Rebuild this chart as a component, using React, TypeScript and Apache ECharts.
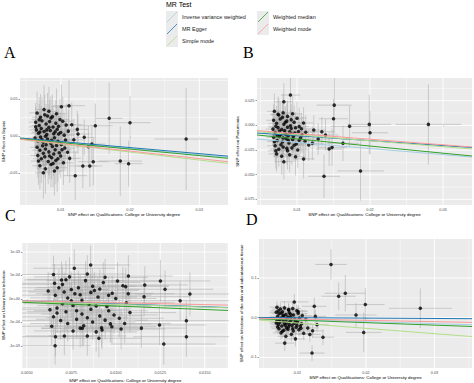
import React, { useEffect, useRef } from "react";
import * as echarts from "echarts";

// ---------- data ----------
const methods = ["Inverse variance weighted", "MR Egger", "Simple mode", "Weighted median", "Weighted mode"];
const methodColors = ["#a6cee3", "#1f78b4", "#b2df8a", "#33a02c", "#fb9a99"];
const panelLetters = ["A", "B", "C", "D"];
const outcomeTitles = [
  "SNP effect on Sepsis",
  "SNP effect on Pneumonia",
  "SNP effect on Urinary tract infection",
  "SNP effect on Infections of the skin and subcutaneous tissue",
];
const exposureTitle = "SNP effect on Qualifications: College or University degree";

// [beta exposure, beta outcome, se exposure, se outcome]
const snpsA = [
  [0.0281, -0.0041, 0.0046, 0.069], [0.0170, 0.0239, 0.0019, 0.048], [0.0200, 0.0180, 0.0030, 0.036],
  [0.0186, -0.0338, 0.0031, 0.047], [0.0198, -0.0374, 0.0020, 0.031], [0.0150, 0.0139, 0.0025, 0.030],
  [0.0112, 0.0410, 0.0023, 0.035], [0.0101, 0.0396, 0.0015, 0.030], [0.0132, -0.0405, 0.0020, 0.030],
  [0.0142, -0.0405, 0.0018, 0.028], [0.0147, -0.0347, 0.0022, 0.032], [0.0121, -0.0536, 0.0017, 0.033],
  [0.0124, 0.0090, 0.0016, 0.025], [0.0125, 0.0027, 0.0018, 0.027], [0.0134, -0.0018, 0.0015, 0.024],
  [0.0145, -0.0108, 0.0019, 0.026], [0.0140, -0.0144, 0.0017, 0.028],
  [0.0066, 0.0312, 0.0011, 0.029], [0.0071, 0.0255, 0.0012, 0.031], [0.0077, 0.0286, 0.0010, 0.027],
  [0.0083, 0.0334, 0.0013, 0.033], [0.0088, 0.0262, 0.0012, 0.030], [0.0094, 0.0301, 0.0014, 0.034],
  [0.0099, 0.0224, 0.0013, 0.028], [0.0064, 0.0187, 0.0010, 0.026], [0.0069, 0.0142, 0.0011, 0.029],
  [0.0073, 0.0205, 0.0012, 0.032], [0.0079, 0.0163, 0.0011, 0.027], [0.0084, 0.0196, 0.0013, 0.030],
  [0.0089, 0.0121, 0.0012, 0.028], [0.0093, 0.0174, 0.0014, 0.031], [0.0097, 0.0133, 0.0013, 0.026],
  [0.0103, 0.0201, 0.0015, 0.033], [0.0108, 0.0148, 0.0014, 0.029], [0.0065, 0.0083, 0.0010, 0.025],
  [0.0068, 0.0038, 0.0011, 0.028], [0.0072, 0.0102, 0.0012, 0.030], [0.0076, 0.0061, 0.0011, 0.027],
  [0.0080, 0.0019, 0.0012, 0.031], [0.0085, 0.0074, 0.0013, 0.026], [0.0090, 0.0032, 0.0012, 0.029],
  [0.0095, 0.0091, 0.0014, 0.032], [0.0100, 0.0048, 0.0013, 0.027], [0.0105, 0.0012, 0.0015, 0.030],
  [0.0111, 0.0066, 0.0014, 0.028], [0.0063, -0.0028, 0.0010, 0.026], [0.0067, -0.0064, 0.0011, 0.030],
  [0.0071, -0.0012, 0.0012, 0.028], [0.0075, -0.0083, 0.0011, 0.031], [0.0081, -0.0041, 0.0012, 0.027],
  [0.0086, -0.0102, 0.0013, 0.029], [0.0091, -0.0023, 0.0012, 0.033], [0.0096, -0.0071, 0.0014, 0.028],
  [0.0101, -0.0115, 0.0013, 0.030], [0.0107, -0.0054, 0.0015, 0.026], [0.0066, -0.0152, 0.0010, 0.029],
  [0.0070, -0.0193, 0.0011, 0.031], [0.0074, -0.0131, 0.0012, 0.027], [0.0078, -0.0176, 0.0011, 0.030],
  [0.0083, -0.0214, 0.0013, 0.032], [0.0088, -0.0143, 0.0012, 0.028], [0.0092, -0.0185, 0.0013, 0.030],
  [0.0098, -0.0226, 0.0014, 0.029], [0.0106, -0.0163, 0.0015, 0.031], [0.0067, -0.0262, 0.0011, 0.030],
  [0.0072, -0.0308, 0.0012, 0.033], [0.0077, -0.0281, 0.0011, 0.028], [0.0082, -0.0343, 0.0012, 0.031],
  [0.0087, -0.0294, 0.0013, 0.029], [0.0093, -0.0332, 0.0014, 0.032], [0.0100, -0.0271, 0.0013, 0.030],
  [0.0113, -0.0302, 0.0016, 0.033], [0.0070, -0.0402, 0.0011, 0.032], [0.0078, -0.0441, 0.0012, 0.034],
  [0.0086, -0.0384, 0.0013, 0.031], [0.0095, -0.0428, 0.0014, 0.033], [0.0104, -0.0362, 0.0015, 0.030],
  [0.0075, -0.0497, 0.0012, 0.035], [0.0091, -0.0472, 0.0013, 0.033],
  [0.0069, 0.0221, 0.0011, 0.030], [0.0086, 0.0243, 0.0012, 0.029], [0.0092, 0.0059, 0.0013, 0.028],
  [0.0078, -0.0003, 0.0011, 0.029], [0.0070, 0.0054, 0.0011, 0.027], [0.0083, 0.0117, 0.0012, 0.031],
  [0.0087, -0.0058, 0.0013, 0.030], [0.0073, -0.0046, 0.0012, 0.028], [0.0079, -0.0117, 0.0011, 0.029],
  [0.0094, -0.0128, 0.0013, 0.031], [0.0090, -0.0242, 0.0013, 0.030], [0.0075, -0.0234, 0.0011, 0.028],
  [0.0084, -0.0269, 0.0012, 0.031], [0.0068, -0.0338, 0.0011, 0.032], [0.0097, 0.0027, 0.0013, 0.030],
  [0.0102, -0.0186, 0.0014, 0.029], [0.0081, 0.0271, 0.0012, 0.031], [0.0064, 0.0124, 0.0010, 0.027],
  [0.0110, -0.0218, 0.0015, 0.032], [0.0096, -0.0307, 0.0014, 0.031], [0.0119, -0.0051, 0.0016, 0.028],
  [0.0116, 0.0152, 0.0016, 0.030], [0.0076, 0.0358, 0.0012, 0.033], [0.0089, -0.0371, 0.0013, 0.032],
  [0.0080, 0.0083, 0.0011, 0.028],
];

const snpsB = [
  [0.0280, 0.0010, 0.0045, 0.0405], [0.0199, 0.0010, 0.0030, 0.0300], [0.0200, -0.0075, 0.0025, 0.0220],
  [0.0187, -0.0462, 0.0032, 0.0300], [0.0137, -0.0516, 0.0022, 0.0220], [0.0151, 0.0205, 0.0024, 0.0290],
  [0.0150, 0.0067, 0.0020, 0.0200], [0.0172, -0.0010, 0.0026, 0.0210], [0.0163, -0.0182, 0.0022, 0.0180],
  [0.0148, -0.0223, 0.0020, 0.0190], [0.0144, -0.0240, 0.0018, 0.0170], [0.0091, 0.0307, 0.0013, 0.0200],
  [0.0082, 0.0239, 0.0012, 0.0190], [0.0082, -0.0368, 0.0012, 0.0180], [0.0109, -0.0340, 0.0015, 0.0200],
  [0.0139, -0.0098, 0.0018, 0.0160], [0.0134, -0.0065, 0.0017, 0.0150], [0.0123, -0.0048, 0.0016, 0.0150],
  [0.0129, -0.0139, 0.0017, 0.0160], [0.0121, -0.0182, 0.0016, 0.0170], [0.0116, -0.0199, 0.0015, 0.0160],
  [0.0069, 0.0142, 0.0010, 0.018], [0.0075, 0.0105, 0.0011, 0.017], [0.0081, 0.0128, 0.0012, 0.019],
  [0.0087, 0.0091, 0.0011, 0.016], [0.0094, 0.0117, 0.0013, 0.018], [0.0100, 0.0073, 0.0012, 0.017],
  [0.0068, 0.0052, 0.0010, 0.016], [0.0072, 0.0021, 0.0011, 0.018], [0.0077, 0.0064, 0.0012, 0.017],
  [0.0082, 0.0012, 0.0011, 0.015], [0.0086, 0.0043, 0.0012, 0.018], [0.0091, -0.0005, 0.0013, 0.016],
  [0.0096, 0.0031, 0.0012, 0.017], [0.0103, -0.0012, 0.0014, 0.019], [0.0109, 0.0024, 0.0013, 0.016],
  [0.0067, -0.0038, 0.0010, 0.017], [0.0070, -0.0071, 0.0011, 0.016], [0.0074, -0.0023, 0.0012, 0.018],
  [0.0078, -0.0089, 0.0011, 0.015], [0.0083, -0.0052, 0.0012, 0.017], [0.0088, -0.0104, 0.0013, 0.016],
  [0.0092, -0.0031, 0.0012, 0.018], [0.0097, -0.0078, 0.0013, 0.017], [0.0102, -0.0062, 0.0014, 0.016],
  [0.0107, -0.0095, 0.0014, 0.018], [0.0068, -0.0121, 0.0010, 0.016], [0.0073, -0.0153, 0.0011, 0.018],
  [0.0076, -0.0112, 0.0012, 0.017], [0.0080, -0.0168, 0.0011, 0.015], [0.0085, -0.0134, 0.0012, 0.017],
  [0.0089, -0.0179, 0.0013, 0.018], [0.0094, -0.0142, 0.0012, 0.016], [0.0099, -0.0188, 0.0013, 0.017],
  [0.0105, -0.0126, 0.0014, 0.016], [0.0111, -0.0161, 0.0015, 0.018], [0.0070, -0.0207, 0.0011, 0.017],
  [0.0075, -0.0241, 0.0012, 0.018], [0.0081, -0.0219, 0.0011, 0.016], [0.0087, -0.0256, 0.0012, 0.019],
  [0.0093, -0.0228, 0.0013, 0.017], [0.0101, -0.0249, 0.0014, 0.018], [0.0072, -0.0289, 0.0011, 0.018],
  [0.0079, -0.0312, 0.0012, 0.019], [0.0090, -0.0297, 0.0013, 0.018], [0.0098, -0.0318, 0.0014, 0.019],
  [0.0084, 0.0032, 0.0012, 0.016], [0.0079, -0.0041, 0.0011, 0.017], [0.0090, -0.0066, 0.0013, 0.016],
  [0.0085, -0.0093, 0.0012, 0.018], [0.0095, -0.0113, 0.0013, 0.017],
  [0.0071, -0.0009, 0.0011, 0.016], [0.0076, -0.0058, 0.0011, 0.017], [0.0081, -0.0127, 0.0012, 0.016],
  [0.0087, -0.0019, 0.0012, 0.018], [0.0093, -0.0087, 0.0013, 0.017], [0.0098, -0.0024, 0.0013, 0.016],
  [0.0073, -0.0102, 0.0011, 0.017], [0.0069, -0.0165, 0.0010, 0.016], [0.0078, -0.0196, 0.0012, 0.018],
  [0.0088, -0.0151, 0.0012, 0.017], [0.0092, 0.0058, 0.0013, 0.016], [0.0080, 0.0081, 0.0011, 0.017],
  [0.0074, 0.0112, 0.0011, 0.018], [0.0103, -0.0151, 0.0014, 0.017], [0.0106, -0.0035, 0.0014, 0.016],
  [0.0083, -0.0077, 0.0012, 0.018], [0.0096, -0.0201, 0.0013, 0.017], [0.0071, -0.0258, 0.0011, 0.018],
  [0.0112, -0.0069, 0.0015, 0.017], [0.0086, -0.0233, 0.0012, 0.016],
];

const snpsC = [
  [0.01163, 0.000298, 0.0024, 0.00040], [0.01159, 0.000049, 0.0026, 0.00042], [0.01144, -0.000620, 0.0025, 0.00041],
  [0.01251, 0.000383, 0.0028, 0.00045], [0.01277, 0.000206, 0.0027, 0.00040], [0.01246, -0.000553, 0.0026, 0.00043],
  [0.01270, -0.000958, 0.0029, 0.00044], [0.01362, -0.000036, 0.0030, 0.00042], [0.01417, 0.000106, 0.0031, 0.00046],
  [0.01397, -0.000462, 0.0029, 0.00041], [0.01397, -0.000802, 0.0030, 0.00043], [0.01071, 0.000489, 0.0025, 0.00044],
  [0.01056, 0.000262, 0.0024, 0.00040], [0.00859, 0.000723, 0.0022, 0.00041], [0.00767, 0.000653, 0.0023, 0.00040],
  [0.00695, 0.000404, 0.0021, 0.00039], [0.00656, 0.000334, 0.0020, 0.00041], [0.00661, -0.000802, 0.0021, 0.00042],
  [0.00659, -0.000994, 0.0020, 0.00040], [0.00711, -0.000787, 0.0022, 0.00041], [0.00812, -0.000624, 0.0023, 0.00039],
  [0.00840, -0.000787, 0.0022, 0.00042], [0.00905, -0.000836, 0.0024, 0.00040], [0.00923, -0.000660, 0.0023, 0.00041],
  [0.00978, -0.000589, 0.0025, 0.00039],
  [0.0065, 0.00052, 0.0021, 0.00040], [0.0070, 0.00031, 0.0023, 0.00038], [0.0074, 0.00047, 0.0020, 0.00042],
  [0.0079, 0.00024, 0.0024, 0.00036], [0.0083, 0.00039, 0.0022, 0.00041], [0.0088, 0.00018, 0.0025, 0.00039],
  [0.0093, 0.00035, 0.0021, 0.00043], [0.0098, 0.00012, 0.0023, 0.00037], [0.0104, 0.00028, 0.0026, 0.00040],
  [0.0066, 0.00008, 0.0022, 0.00039], [0.0071, 0.00015, 0.0020, 0.00041], [0.0075, -0.00004, 0.0023, 0.00038],
  [0.0080, 0.00009, 0.0021, 0.00042], [0.0085, -0.00011, 0.0024, 0.00036], [0.0090, 0.00004, 0.0022, 0.00040],
  [0.0095, -0.00016, 0.0025, 0.00039], [0.0100, 0.00001, 0.0023, 0.00041], [0.0106, -0.00008, 0.0027, 0.00038],
  [0.0067, -0.00019, 0.0021, 0.00040], [0.0072, -0.00027, 0.0022, 0.00042], [0.0076, -0.00014, 0.0020, 0.00037],
  [0.0081, -0.00032, 0.0023, 0.00041], [0.0086, -0.00022, 0.0021, 0.00039], [0.0091, -0.00036, 0.0024, 0.00043],
  [0.0096, -0.00025, 0.0022, 0.00038], [0.0102, -0.00041, 0.0025, 0.00040], [0.0108, -0.00029, 0.0026, 0.00042],
  [0.0065, -0.00038, 0.0020, 0.00039], [0.0069, -0.00046, 0.0022, 0.00041], [0.0073, -0.00052, 0.0021, 0.00038],
  [0.0078, -0.00043, 0.0023, 0.00040], [0.0082, -0.00057, 0.0022, 0.00042], [0.0087, -0.00049, 0.0024, 0.00037],
  [0.0092, -0.00061, 0.0021, 0.00041], [0.0097, -0.00053, 0.0023, 0.00039], [0.0103, -0.00064, 0.0025, 0.00043],
  [0.0068, 0.00024, 0.0021, 0.00040], [0.0077, 0.00011, 0.0022, 0.00041], [0.0087, 0.00027, 0.0024, 0.00038],
  [0.0076, -0.00068, 0.0022, 0.00040], [0.0089, -0.00070, 0.0023, 0.00042], [0.0064, -0.00058, 0.0020, 0.00041],
  [0.0094, 0.00046, 0.0024, 0.00039], [0.0084, 0.00053, 0.0022, 0.00040],
  [0.0072, 0.00041, 0.0022, 0.00040], [0.0081, -0.00003, 0.0023, 0.00039], [0.0089, -0.00015, 0.0021, 0.00041],
  [0.0078, -0.00025, 0.0024, 0.00040], [0.0070, -0.00010, 0.0022, 0.00042], [0.0084, -0.00040, 0.0023, 0.00038],
  [0.0094, -0.00045, 0.0024, 0.00041], [0.0099, -0.00034, 0.0025, 0.00040], [0.0075, 0.00020, 0.0021, 0.00039],
  [0.0091, 0.00021, 0.0023, 0.00042], [0.0101, 0.00038, 0.0026, 0.00040], [0.0067, -0.00030, 0.0021, 0.00041],
  [0.0105, -0.00052, 0.0026, 0.00042], [0.0096, 0.00008, 0.0024, 0.00039], [0.0080, -0.00062, 0.0022, 0.00041],
  [0.0073, 0.00002, 0.0021, 0.00040], [0.0086, 0.00014, 0.0023, 0.00039], [0.0062, 0.00017, 0.0020, 0.00041],
  [0.0063, -0.00023, 0.0020, 0.00040], [0.0107, 0.00011, 0.0026, 0.00041],
];

const snpsD = [
  [0.01489, 0.134, 0.0023, 0.038], [0.01601, 0.054, 0.0025, 0.035], [0.01698, 0.0615, 0.0030, 0.046],
  [0.01990, 0.033, 0.0028, 0.042], [0.01854, 0.0068, 0.0030, 0.030], [0.01966, -0.037, 0.0026, 0.050],
  [0.02793, 0.0236, 0.0046, 0.050], [0.01212, -0.089, 0.0018, 0.020], [0.01372, -0.049, 0.0016, 0.020],
  [0.01245, 0.0287, 0.0018, 0.022], [0.00953, 0.0397, 0.0021, 0.020], [0.00813, -0.064, 0.0014, 0.020],
  [0.01285, -0.0177, 0.0017, 0.018], [0.01260, 0.0033, 0.0016, 0.017],
  [0.0070, 0.0265, 0.0011, 0.016], [0.0075, 0.0218, 0.0012, 0.015], [0.0081, 0.0247, 0.0011, 0.017],
  [0.0087, 0.0192, 0.0013, 0.016], [0.0093, 0.0231, 0.0012, 0.018], [0.0099, 0.0176, 0.0014, 0.015],
  [0.0069, 0.0135, 0.0010, 0.015], [0.0073, 0.0098, 0.0011, 0.016], [0.0078, 0.0152, 0.0012, 0.014],
  [0.0083, 0.0081, 0.0011, 0.017], [0.0088, 0.0124, 0.0012, 0.015], [0.0094, 0.0067, 0.0013, 0.016],
  [0.0101, 0.0109, 0.0014, 0.017], [0.0107, 0.0053, 0.0014, 0.015], [0.0071, 0.0032, 0.0011, 0.016],
  [0.0076, -0.0011, 0.0012, 0.015], [0.0080, 0.0041, 0.0011, 0.017], [0.0085, -0.0024, 0.0012, 0.016],
  [0.0090, 0.0015, 0.0013, 0.014], [0.0096, -0.0038, 0.0013, 0.016], [0.0103, -0.0007, 0.0014, 0.017],
  [0.0112, -0.0046, 0.0015, 0.016], [0.0070, -0.0079, 0.0011, 0.015], [0.0074, -0.0118, 0.0012, 0.016],
  [0.0079, -0.0086, 0.0011, 0.017], [0.0084, -0.0131, 0.0012, 0.015], [0.0089, -0.0097, 0.0013, 0.016],
  [0.0095, -0.0142, 0.0013, 0.017], [0.0100, -0.0105, 0.0014, 0.015], [0.0106, -0.0153, 0.0015, 0.016],
  [0.0072, -0.0176, 0.0011, 0.016], [0.0077, -0.0211, 0.0012, 0.017], [0.0082, -0.0189, 0.0011, 0.015],
  [0.0087, -0.0228, 0.0012, 0.016], [0.0092, -0.0197, 0.0013, 0.017], [0.0098, -0.0241, 0.0014, 0.016],
  [0.0104, -0.0215, 0.0014, 0.015], [0.0115, -0.0258, 0.0016, 0.017], [0.0073, -0.0279, 0.0011, 0.016],
  [0.0080, -0.0314, 0.0012, 0.017], [0.0086, -0.0292, 0.0012, 0.016], [0.0094, -0.0337, 0.0013, 0.018],
  [0.0102, -0.0305, 0.0014, 0.016], [0.0122, -0.0331, 0.0016, 0.017], [0.0076, -0.0382, 0.0012, 0.017],
  [0.0091, -0.0415, 0.0013, 0.018], [0.0109, -0.0394, 0.0015, 0.017], [0.0083, -0.0468, 0.0012, 0.018],
  [0.0097, -0.0533, 0.0014, 0.019], [0.0118, -0.0421, 0.0016, 0.018],
  [0.0072, 0.0175, 0.0011, 0.015], [0.0079, 0.0062, 0.0011, 0.016], [0.0086, 0.0015, 0.0012, 0.015],
  [0.0091, -0.0051, 0.0013, 0.016], [0.0074, -0.0043, 0.0011, 0.016], [0.0081, -0.0148, 0.0012, 0.015],
  [0.0088, -0.0172, 0.0012, 0.016], [0.0097, -0.0071, 0.0013, 0.017], [0.0071, -0.0233, 0.0011, 0.016],
  [0.0084, -0.0256, 0.0012, 0.017], [0.0093, -0.0279, 0.0013, 0.016], [0.0078, -0.0342, 0.0011, 0.017],
  [0.0101, 0.0158, 0.0014, 0.016], [0.0105, -0.0268, 0.0014, 0.017], [0.0076, 0.0119, 0.0011, 0.015],
  [0.0090, 0.0088, 0.0013, 0.016], [0.0083, -0.0045, 0.0012, 0.015], [0.0099, -0.0183, 0.0013, 0.016],
  [0.0069, -0.0136, 0.0010, 0.015], [0.0087, 0.0203, 0.0012, 0.016],
];

// [intercept, slope] per method (same order as methods)
const fitsA = [[0, -0.843], [0.0008, -0.82], [0, -1.081], [0, -0.882], [0, -1.016]];
const fitsB = [[-0.0111, -0.618], [-0.0055, -0.499], [-0.0036, -0.60], [-0.0065, -0.723], [-0.0027, -0.567]];
const fitsC = [[0, -0.011], [0.00002, -0.0125], [0, -0.0115], [0, -0.015], [0, -0.008]];
const fitsD = [[0, -0.50], [0.001, -0.10], [0, -1.34], [0, -0.625], [0, -0.335]];

// tick values and labels
const xTicksA = [0.01, 0.02, 0.03];
const xTickLabelsA = ["0.01", "0.02", "0.03"];
const yTicksA = [0.05, 0, -0.05];
const yTickLabelsA = ["0.05", "0.00", "-0.05"];
const xTicksB = [0.01, 0.02, 0.03];
const xTickLabelsB = ["0.01", "0.02", "0.03"];
const yTicksB = [0.025, 0, -0.025, -0.05, -0.075];
const yTickLabelsB = ["0.025", "0.000", "-0.025", "-0.050", "-0.075"];
const xTicksC = [0.005, 0.0075, 0.01, 0.0125, 0.015];
const xTickLabelsC = ["0.0050", "0.0075", "0.0100", "0.0125", "0.0150"];
const yTicksC = [0.001, 0.0005, 0, -0.0005, -0.001];
const yTickLabelsC = ["1e-03", "5e-04", "0e+00", "-5e-04", "-1e-03"];
const xTicksD = [0.01, 0.02, 0.03];
const xTickLabelsD = ["0.01", "0.02", "0.03"];
const yTicksD = [0.1, 0, -0.1];
const yTickLabelsD = ["0.1", "0.0", "-0.1"];

// minor grid positions
const xMinorA = [0.005, 0.015, 0.025];
const yMinorA = [0.075, 0.025, -0.025, -0.075];
const xMinorB = [0.005, 0.015, 0.025];
const yMinorB = [0.0375, 0.0125, -0.0125, -0.0375, -0.0625];
const xMinorC = [0.00625, 0.00875, 0.01125, 0.01375, 0.01625];
const yMinorC = [0.00075, 0.00025, -0.00025, -0.00075, -0.00125];
const xMinorD = [0.005, 0.015, 0.025, 0.035];
const yMinorD = [0.15, 0.05, -0.05];

// ---------- layout ----------
const panels = [
  { snps: snpsA, fits: fitsA, xt: xTicksA, xl: xTickLabelsA, yt: yTicksA, yl: yTickLabelsA, xm: xMinorA, ym: yMinorA,
    grid: { left: 18, top: 78, width: 210, height: 127 }, x: [0.00414, 0.03414], y: [-0.0932, 0.0784],
    yGap: 11, xGap: 6, letter: [4, 44] },
  { snps: snpsB, fits: fitsB, xt: xTicksB, xl: xTickLabelsB, yt: yTicksB, yl: yTickLabelsB, xm: xMinorB, ym: yMinorB,
    grid: { left: 257, top: 78, width: 215, height: 127 }, x: [0.00452, 0.03397], y: [-0.0807, 0.048],
    yGap: 14, xGap: 6, letter: [243, 44] },
  { snps: snpsC, fits: fitsC, xt: xTicksC, xl: xTickLabelsC, yt: yTicksC, yl: yTickLabelsC, xm: xMinorC, ym: yMinorC,
    grid: { left: 19, top: 243, width: 209, height: 125 }, x: [0.00475, 0.01631], y: [-0.001468, 0.00119],
    yGap: 13, xGap: 10, letter: [5, 207] },
  { snps: snpsD, fits: fitsD, xt: xTicksD, xl: xTickLabelsD, yt: yTicksD, yl: yTickLabelsD, xm: xMinorD, ym: yMinorD,
    grid: { left: 259, top: 239, width: 213, height: 129 }, x: [0.00438, 0.03547], y: [-0.1266, 0.198],
    yGap: 16, xGap: 7, letter: [246, 211] },
];

const FONT = "Liberation Sans, Arial, sans-serif";

function labelFormatter(ticks: number[], labels: string[]) {
  return (v: number) => {
    const i = ticks.findIndex((t) => Math.abs(t - v) < 1e-12 + Math.abs(t) * 1e-6);
    return i >= 0 ? labels[i] : "";
  };
}

function buildOption() {
  const grid: any[] = [];
  const xAxis: any[] = [];
  const yAxis: any[] = [];
  const series: any[] = [];
  const graphic: any[] = [];

  panels.forEach((p, i) => {
    grid.push({ ...p.grid, show: true, backgroundColor: "#EBEBEB", borderWidth: 0, containLabel: false });
    const axisCommon = {
      type: "value",
      gridIndex: i,
      axisLine: { show: false },
      splitLine: { show: false },
      nameLocation: "middle",
      nameTextStyle: { fontSize: 4.4, color: "#000", fontFamily: FONT },
    };
    xAxis.push({
      ...axisCommon,
      min: p.x[0],
      max: p.x[1],
      name: exposureTitle,
      nameGap: p.xGap,
      axisTick: { show: true, length: 1.5, lineStyle: { color: "#333", width: 0.5 }, customValues: p.xt },
      axisLabel: { customValues: p.xt, formatter: labelFormatter(p.xt, p.xl), fontSize: 3.8, color: "#4D4D4D", margin: 2.5, fontFamily: FONT },
    });
    yAxis.push({
      ...axisCommon,
      min: p.y[0],
      max: p.y[1],
      name: outcomeTitles[i],
      nameGap: p.yGap,
      axisTick: { show: true, length: 1.5, lineStyle: { color: "#333", width: 0.5 }, customValues: p.yt },
      axisLabel: { customValues: p.yt, formatter: labelFormatter(p.yt, p.yl), fontSize: 3.8, color: "#4D4D4D", margin: 2.5, fontFamily: FONT },
    });

    const gridData = [
      ...p.xm.map((v) => [0, v, 0]),
      ...p.ym.map((v) => [1, v, 0]),
      ...p.xt.map((v) => [0, v, 1]),
      ...p.yt.map((v) => [1, v, 1]),
    ];
    const xMin = p.x[0];
    const yMin = p.y[0];
    series.push({
      type: "custom",
      xAxisIndex: i,
      yAxisIndex: i,
      silent: true,
      clip: false,
      z: 1,
      data: gridData,
      renderItem: (params: any, api: any) => {
        const kind = api.value(0);
        const v = api.value(1);
        const major = api.value(2);
        const cs = params.coordSys;
        const style = { stroke: "#FFFFFF", lineWidth: major ? 0.9 : 0.45 };
        if (kind === 0) {
          const pt = api.coord([v, yMin]);
          return { type: "line", shape: { x1: pt[0], y1: cs.y, x2: pt[0], y2: cs.y + cs.height }, style };
        }
        const pt = api.coord([xMin, v]);
        return { type: "line", shape: { x1: cs.x, y1: pt[1], x2: cs.x + cs.width, y2: pt[1] }, style };
      },
    });

    series.push({
      type: "custom",
      xAxisIndex: i,
      yAxisIndex: i,
      silent: true,
      clip: true,
      z: 2,
      data: p.snps,
      renderItem: (params: any, api: any) => {
        const x = api.value(0), y = api.value(1), sx = api.value(2), sy = api.value(3);
        const a = api.coord([x - sx, y]);
        const b = api.coord([x + sx, y]);
        const c = api.coord([x, y - sy]);
        const d = api.coord([x, y + sy]);
        const style = { stroke: "#A6A6A6", lineWidth: 0.6, opacity: 0.85 };
        return {
          type: "group",
          children: [
            { type: "line", shape: { x1: a[0], y1: a[1], x2: b[0], y2: b[1] }, style },
            { type: "line", shape: { x1: c[0], y1: c[1], x2: d[0], y2: d[1] }, style },
          ],
        };
      },
    });

    series.push({
      type: "scatter",
      xAxisIndex: i,
      yAxisIndex: i,
      silent: true,
      z: 3,
      symbol: "circle",
      symbolSize: 3.5,
      itemStyle: { color: "#000" },
      data: p.snps.map((s) => [s[0], s[1]]),
    });

    p.fits.forEach((f, m) => {
      series.push({
        type: "line",
        name: methods[m],
        xAxisIndex: i,
        yAxisIndex: i,
        silent: true,
        z: 4,
        showSymbol: false,
        symbol: "none",
        clip: true,
        lineStyle: { color: methodColors[m], width: 1 },
        data: [
          [p.x[0], f[0] + f[1] * p.x[0]],
          [p.x[1], f[0] + f[1] * p.x[1]],
        ],
      });
    });

    graphic.push({
      type: "text",
      left: p.letter[0],
      top: p.letter[1],
      style: { text: panelLetters[i], fontSize: 16, fontFamily: "Liberation Serif, Times New Roman, serif", fill: "#000" },
    });
  });

  // legend
  graphic.push({
    type: "text",
    left: 166,
    top: 1,
    style: { text: "MR Test", fontSize: 7, fontFamily: FONT, fill: "#000" },
  });
  const legendPos = [
    [166, 11], [166, 23], [166, 35], [257, 11], [257, 23],
  ];
  methods.forEach((m, k) => {
    const [lx, ly] = legendPos[k];
    graphic.push({ type: "rect", shape: { x: lx, y: ly, width: 12, height: 12 }, style: { fill: "#EBEBEB" } });
    graphic.push({
      type: "line",
      shape: { x1: lx + 1, y1: ly + 11, x2: lx + 11, y2: ly + 1 },
      style: { stroke: methodColors[k], lineWidth: 0.8 },
    });
    graphic.push({
      type: "text",
      x: lx + 16,
      y: ly + 6,
      style: { text: m, fontSize: 5.5, fontFamily: FONT, fill: "#1A1A1A", textVerticalAlign: "middle" },
    });
  });

  return {
    animation: false,
    backgroundColor: "#FFFFFF",
    textStyle: { fontFamily: FONT },
    grid,
    xAxis,
    yAxis,
    series,
    graphic,
  };
}

export default function App() {
  const ref = useRef<HTMLDivElement>(null);
  useEffect(() => {
    document.body.style.margin = "0";
    if (!ref.current) return;
    const chart = echarts.init(ref.current, undefined, { renderer: "svg" });
    chart.setOption(buildOption() as any);
    return () => chart.dispose();
  }, []);
  return <div ref={ref} style={{ width: 474, height: 383 }} />;
}
